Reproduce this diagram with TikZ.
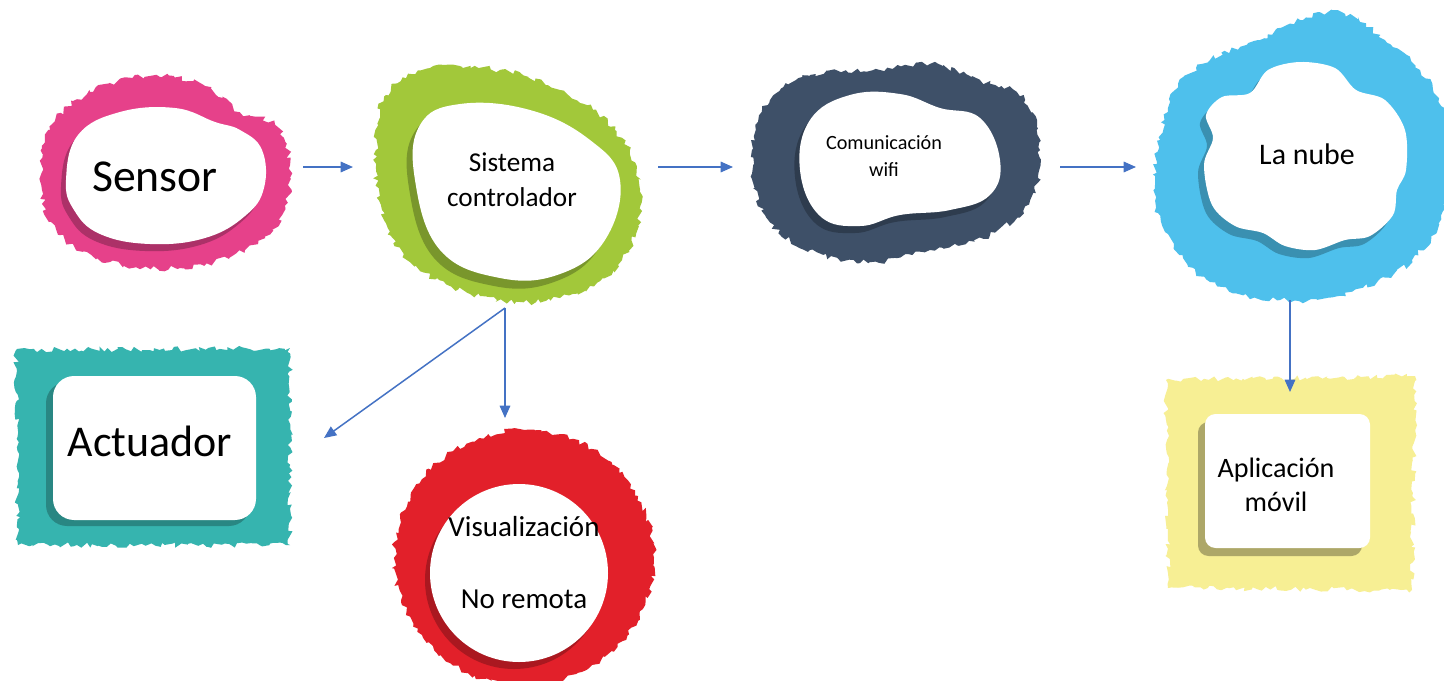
\documentclass[tikz,border=0pt]{standalone}
\usepackage{fontspec}
\setmainfont{Carlito}
\usetikzlibrary{decorations.pathmorphing,arrows.meta}
\definecolor{cpink}{HTML}{E6418A}
\definecolor{cgreen}{HTML}{A2C83A}
\definecolor{cnavy}{HTML}{3E5068}
\definecolor{cblue}{HTML}{4EC0EC}
\definecolor{cteal}{HTML}{36B4AF}
\definecolor{cred}{HTML}{E2202A}
\definecolor{cyellow}{HTML}{F7EF94}
\definecolor{carrow}{HTML}{4472C4}
\tikzset{
  rough/.style={decorate,decoration={random steps,segment length=2.2pt,amplitude=1.6pt}},
  arr/.style={draw=carrow, line width=0.85pt, -{Triangle[length=7pt,width=6pt]}},
  lbl/.style={align=center, text=black, inner sep=0pt},
}
\begin{document}
\begin{tikzpicture}[x=0.02cm,y=-0.02cm]
\useasboundingbox (0,0) rectangle (1444,680);
\fill[white] (0,0) rectangle (1444,680);

% ---------- Sensor (pink) ----------
\fill[cpink, rough] plot[smooth cycle, tension=0.7] coordinates {(42,190) (50,130) (90,92) (150,76) (205,86) (240,112) (275,125) (290,165) (282,215) (245,250) (180,268) (110,262) (60,235)};
\fill[cpink!75!black, shift={(-5,7)}] plot[smooth cycle, tension=0.7] coordinates {(66,180) (78,135) (120,112) (175,108) (215,122) (240,130) (262,150) (264,188) (245,216) (205,238) (150,244) (100,234) (74,210)};
\fill[white] plot[smooth cycle, tension=0.7] coordinates {(66,180) (78,135) (120,112) (175,108) (215,122) (240,130) (262,150) (264,188) (245,216) (205,238) (150,244) (100,234) (74,210)};
\node[lbl, font=\fontsize{26}{30}\selectfont] (sensor) at (155,177) {Sensor};

% ---------- Sistema controlador (green) ----------
\fill[cgreen, rough] plot[smooth cycle, tension=0.7] coordinates {(376,150) (386,95) (430,68) (500,70) (560,90) (615,130) (640,190) (622,260) (560,298) (480,296) (410,262) (382,210)};
\fill[cgreen!75!black, shift={(-6,8)}] plot[smooth cycle, tension=0.7] coordinates {(415,180) (420,125) (460,104) (530,110) (590,140) (620,180) (605,240) (560,274) (500,278) (440,250)};
\fill[white] plot[smooth cycle, tension=0.7] coordinates {(415,180) (420,125) (460,104) (530,110) (590,140) (620,180) (605,240) (560,274) (500,278) (440,250)};
\node[lbl, font=\fontsize{15.5}{20}\selectfont] (sistema) at (512,180) {Sistema\\controlador};

% ---------- Comunicacion wifi (navy) ----------
\fill[cnavy, rough] plot[smooth cycle, tension=0.7] coordinates {(752,150) (770,100) (810,75) (880,70) (930,64) (980,80) (1025,100) (1040,150) (1030,200) (990,235) (930,250) (870,262) (810,250) (765,215)};
\fill[cnavy!75!black, shift={(-5,7)}] plot[smooth cycle, tension=0.7] coordinates {(800,170) (810,120) (850,95) (900,94) (940,108) (980,118) (1000,160) (990,195) (950,210) (900,215) (860,226) (820,216)};
\fill[white] plot[smooth cycle, tension=0.7] coordinates {(800,170) (810,120) (850,95) (900,94) (940,108) (980,118) (1000,160) (990,195) (950,210) (900,215) (860,226) (820,216)};
\node[lbl, font=\fontsize{11.5}{15}\selectfont] (wifi) at (884,156) {Comunicación\\wifi};

% ---------- La nube (blue) ----------
\fill[cblue, rough] plot[smooth cycle, tension=0.7] coordinates {(1160,140) (1175,90) (1210,60) (1260,40) (1300,20) (1345,14) (1385,40) (1420,70) (1446,120) (1446,200) (1412,260) (1350,292) (1280,300) (1210,282) (1165,232) (1155,182)};
\fill[cblue!75!black, shift={(-6,8)}] plot[smooth cycle, tension=0.55] coordinates {(1204,165) (1213,138) (1206,115) (1222,97) (1250,93) (1268,70) (1300,62) (1335,68) (1356,90) (1385,100) (1405,130) (1406,170) (1397,190) (1393,215) (1370,236) (1345,240) (1315,250) (1285,246) (1263,233) (1235,226) (1212,205)};
\fill[white] plot[smooth cycle, tension=0.55] coordinates {(1204,165) (1213,138) (1206,115) (1222,97) (1250,93) (1268,70) (1300,62) (1335,68) (1356,90) (1385,100) (1405,130) (1406,170) (1397,190) (1393,215) (1370,236) (1345,240) (1315,250) (1285,246) (1263,233) (1235,226) (1212,205)};
\node[lbl, font=\fontsize{17}{20}\selectfont] (nube) at (1307,154) {La nube};

% ---------- Actuador (teal) ----------
\fill[cteal, rough] (16,350) -- (290,348) -- (290,545) -- (18,545) -- cycle;
\fill[cteal!75!black, rounded corners=12] (46,382) rectangle (250,526);
\fill[white, rounded corners=12] (53,376) rectangle (256,520);
\node[lbl, font=\fontsize{25}{30}\selectfont] (actuador) at (150,441) {Actuador};

% ---------- Visualizacion no remota (red) ----------
\fill[cred, rough] (524,558) ellipse [x radius=130, y radius=128];
\fill[cred!75!black] (514,580) circle [radius=89];
\fill[white] (519,573) circle [radius=89];
\node[lbl, font=\fontsize{16.5}{20}\selectfont] (visual) at (524,563) {Visualización\\[21pt]No remota};

% ---------- Aplicacion movil (yellow) ----------
\fill[cyellow, rough] (1166,380) -- (1415,376) -- (1412,590) -- (1168,588) -- cycle;
\fill[cyellow!70!black, rounded corners=6] (1198,422) rectangle (1362,556);
\fill[white, rounded corners=6] (1205,414) rectangle (1370,548);
\node[lbl, font=\fontsize{16}{19.5}\selectfont] (app) at (1276,485) {Aplicación\\móvil};

% ---------- connectors ----------
\coordinate (sensorR) at (303,167);
\coordinate (sistL) at (353,167);
\coordinate (sistR) at (658,167);
\coordinate (wifiL) at (733,167);
\coordinate (wifiR) at (1060,167);
\coordinate (nubeL) at (1136,167);
\coordinate (sistB) at (505,308);
\coordinate (visualT) at (505,418);
\coordinate (actR) at (324,438);
\coordinate (nubeB) at (1290,300);
\coordinate (appT) at (1290,392);
\draw[arr] (sensorR) -- (sistL);
\draw[arr] (sistR) -- (wifiL);
\draw[arr] (wifiR) -- (nubeL);
\draw[arr] (sistB) -- (visualT);
\draw[arr] (sistB) -- (actR);
\draw[arr] (nubeB) -- (appT);
\end{tikzpicture}
\end{document}
